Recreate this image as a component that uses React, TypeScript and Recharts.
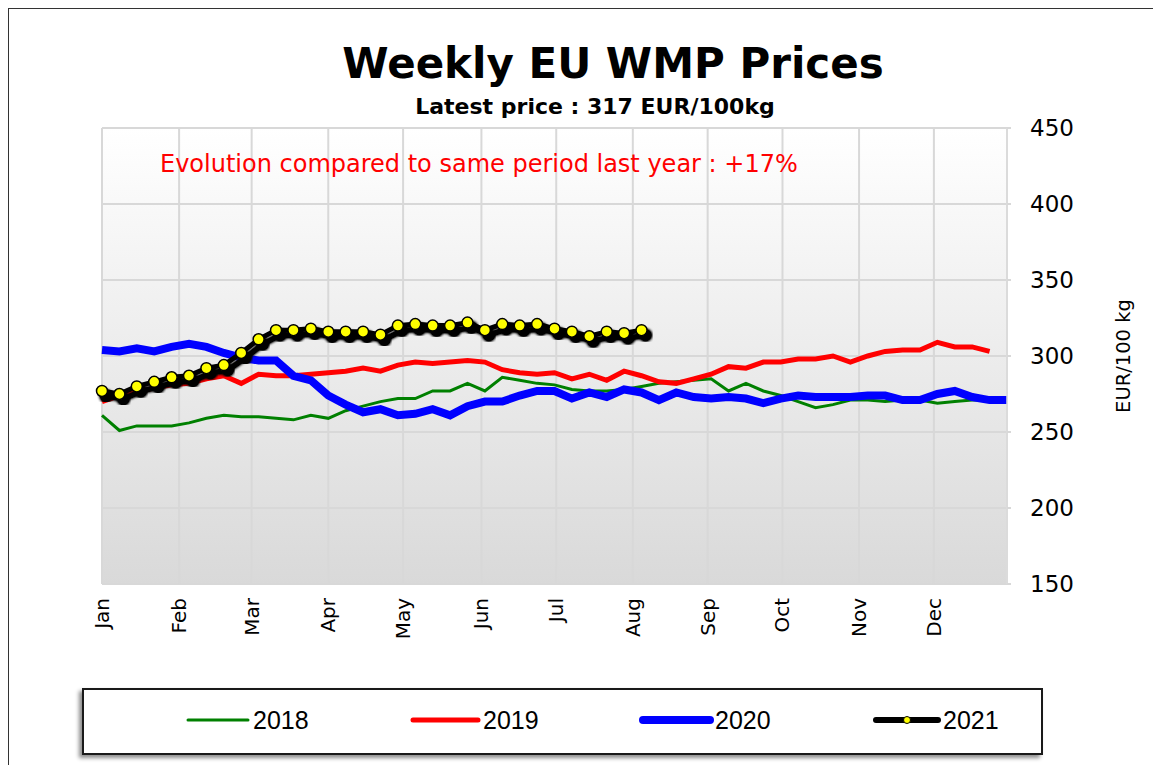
import React from "react";
import { LineChart, Line, XAxis, YAxis, CartesianGrid } from "recharts";

const monthLabels = ["Jan", "Feb", "Mar", "Apr", "May", "Jun", "Jul", "Aug", "Sep", "Oct", "Nov", "Dec"];
const monthTickWeeks = [0, 4.43, 8.6, 13.0, 17.3, 21.8, 26.1, 30.5, 34.8, 39.1, 43.5, 47.8];
const yTicks = [150, 200, 250, 300, 350, 400, 450];

const series2018 = [261,251,254,254,254,256,259,261,260,260,259,258,261,259,264,267,270,272,272,277,277,282,277,286,284,282,281,278,277,277,278,280,282,283,284,285,277,282,277,274,270,266,268,271,271,270,271,271,269,270,271,271];
const series2019 = [270,274,276,279,281,282,285,287,282,288,287,287,288,289,290,292,290,294,296,295,296,297,296,291,289,288,289,285,288,284,290,287,283,282,285,288,293,292,296,296,298,298,300,296,300,303,304,304,309,306,306,303];
const series2020 = [304,303,305,303,306,308,306,302,299,297,297,287,284,274,268,263,265,261,262,265,261,267,270,270,274,277,277,272,276,273,278,276,271,276,273,272,273,272,269,272,274,273,273,273,274,274,271,271,275,277,273,271,271];
const series2021 = [277,275,280,283,286,287,292,294,302,311,317,317,318,316,316,316,314,320,321,320,320,322,317,321,320,321,318,316,313,316,315,317];

const seriesNames = ["2018", "2019", "2020", "2021"];
const seriesColors = ["#008000", "#ff0000", "#0000ff", "#000000"];

const weekCount = Math.max(series2018.length, series2019.length, series2020.length, series2021.length);
const data = Array.from({ length: weekCount }, (_, i) => ({
  week: i,
  y2018: series2018[i],
  y2019: series2019[i],
  y2020: series2020[i],
  y2021: series2021[i],
}));

const FONT = "'DejaVu Sans', Verdana, sans-serif";

const MonthTick = (props: any) => {
  const { x, y, payload } = props;
  const idx = monthTickWeeks.indexOf(payload.value);
  const label = idx >= 0 ? monthLabels[idx] : "";
  return (
    <text
      x={x}
      y={y}
      transform={`rotate(-90 ${x} ${y})`}
      textAnchor="end"
      dominantBaseline="central"
      fontSize={20}
      fontFamily={FONT}
      fill="#000"
    >
      {label}
    </text>
  );
};

const YLabel = (props: any) => {
  const { viewBox } = props;
  const cx = viewBox.x + 116;
  const cy = viewBox.y + viewBox.height / 2;
  return (
    <text
      x={cx}
      y={cy}
      transform={`rotate(-90 ${cx} ${cy})`}
      textAnchor="middle"
      dominantBaseline="central"
      fontSize={19.5}
      fontFamily={FONT}
      fill="#000"
    >
      EUR/100 kg
    </text>
  );
};

const legendWidths = [3, 5, 8, 6];

const css = `
html,body{margin:0;padding:0;overflow:hidden;background:#fff}
.line2021 path.recharts-line-curve, path.line2021 { filter: url(#shadow2021); }
.recharts-line-dot { filter: url(#shadow2021); }
`;

export default function App() {
  return (
    <div style={{ position: "relative", width: 1153, height: 765, overflow: "hidden", background: "#fff" }}>
      <style>{css}</style>
      <div
        style={{
          position: "absolute",
          left: 8,
          top: 8,
          width: 1200,
          height: 800,
          borderLeft: "1.5px solid #333",
          borderTop: "1.5px solid #333",
        }}
      />
      <div style={{ position: "absolute", left: 0, top: 0 }}>
        <LineChart
          width={1153}
          height={765}
          data={data}
          margin={{ top: 128, right: 66, bottom: 121, left: 102 }}
        >
          <defs>
            <linearGradient id="plotBg" x1="0" y1="0" x2="0" y2="1">
              <stop offset="0%" stopColor="#ffffff" />
              <stop offset="100%" stopColor="#d9d9d9" />
            </linearGradient>
            <filter id="shadow2021" x="-50%" y="-50%" width="200%" height="200%">
              <feGaussianBlur in="SourceAlpha" stdDeviation="1.6" result="blur" />
              <feOffset in="blur" dx="4" dy="5" result="off" />
              <feComponentTransfer in="off" result="dark">
                <feFuncA type="linear" slope="1.8" />
              </feComponentTransfer>
              <feMerge>
                <feMergeNode in="dark" />
                <feMergeNode in="SourceGraphic" />
              </feMerge>
            </filter>
          </defs>
          <CartesianGrid
            stroke="#d8d8d8"
            strokeWidth={2}
            fill="url(#plotBg)"
            fillOpacity={1}
          />
          <XAxis
            dataKey="week"
            type="number"
            domain={[0, 52]}
            ticks={monthTickWeeks}
            interval={0}
            tickLine={false}
            tickSize={0}
            tickMargin={14}
            axisLine={false}
            height={60}
            tick={<MonthTick />}
          />
          <YAxis
            orientation="right"
            domain={[150, 450]}
            ticks={yTicks}
            interval={0}
            width={80}
            tickSize={4}
            tickMargin={19}
            tickLine={{ stroke: "#d8d8d8", strokeWidth: 2 }}
            axisLine={{ stroke: "#dcdcdc", strokeWidth: 1.5 }}
            tick={{ fontSize: 23, fontFamily: FONT, fill: "#000" }}
            label={<YLabel />}
          />
          <Line type="linear" dataKey="y2018" stroke={seriesColors[0]} strokeWidth={3} dot={false} isAnimationActive={false} />
          <Line type="linear" dataKey="y2019" stroke={seriesColors[1]} strokeWidth={5} dot={false} isAnimationActive={false} />
          <Line type="linear" dataKey="y2020" stroke={seriesColors[2]} strokeWidth={8} dot={false} isAnimationActive={false} />
          <Line
            type="linear"
            dataKey="y2021"
            className="line2021"
            stroke={seriesColors[3]}
            strokeWidth={5}
            dot={{ r: 5.5, fill: "#ffff00", stroke: "#000", strokeWidth: 1.5 }}
            isAnimationActive={false}
          />
        </LineChart>
      </div>
      <svg
        width={1153}
        height={765}
        style={{ position: "absolute", left: 0, top: 0, pointerEvents: "none" }}
      >
        <text x={613} y={78} textAnchor="middle" fontSize={42} fontWeight="bold" fontFamily={FONT} fill="#000">
          Weekly EU WMP Prices
        </text>
        <text x={595} y={114} textAnchor="middle" fontSize={22} fontWeight="bold" fontFamily={FONT} fill="#000">
          Latest price : 317 EUR/100kg
        </text>
        <text x={160} y={172} textAnchor="start" fontSize={24} fontFamily={FONT} fill="#ff0000">
          Evolution compared to same period last year : +17%
        </text>
      </svg>
      <div
        style={{
          position: "absolute",
          left: 82,
          top: 688,
          width: 957,
          height: 63,
          border: "2px solid #1a1a1a",
          background: "#fff",
          boxShadow: "-3px 3px 4px rgba(0,0,0,0.45)",
        }}
      />
      <svg
        width={1153}
        height={765}
        style={{ position: "absolute", left: 0, top: 0, pointerEvents: "none" }}
      >
        {seriesNames.map((name, i) => {
          const x0 = [188, 413, 643, 876][i];
          const x1 = [248, 478, 710, 938][i];
          return (
            <g key={name}>
              <line x1={x0} y1={720} x2={x1} y2={720} stroke={seriesColors[i]} strokeWidth={legendWidths[i]} strokeLinecap="round" />
              {i === 3 && <circle cx={(x0 + x1) / 2} cy={720} r={3.5} fill="#ffff00" stroke="#000" strokeWidth={1} />}
              <text x={x1 + 5} y={729} fontSize={25} fontFamily="'Liberation Sans', Arial, sans-serif" fill="#000">
                {name}
              </text>
            </g>
          );
        })}
      </svg>
    </div>
  );
}
